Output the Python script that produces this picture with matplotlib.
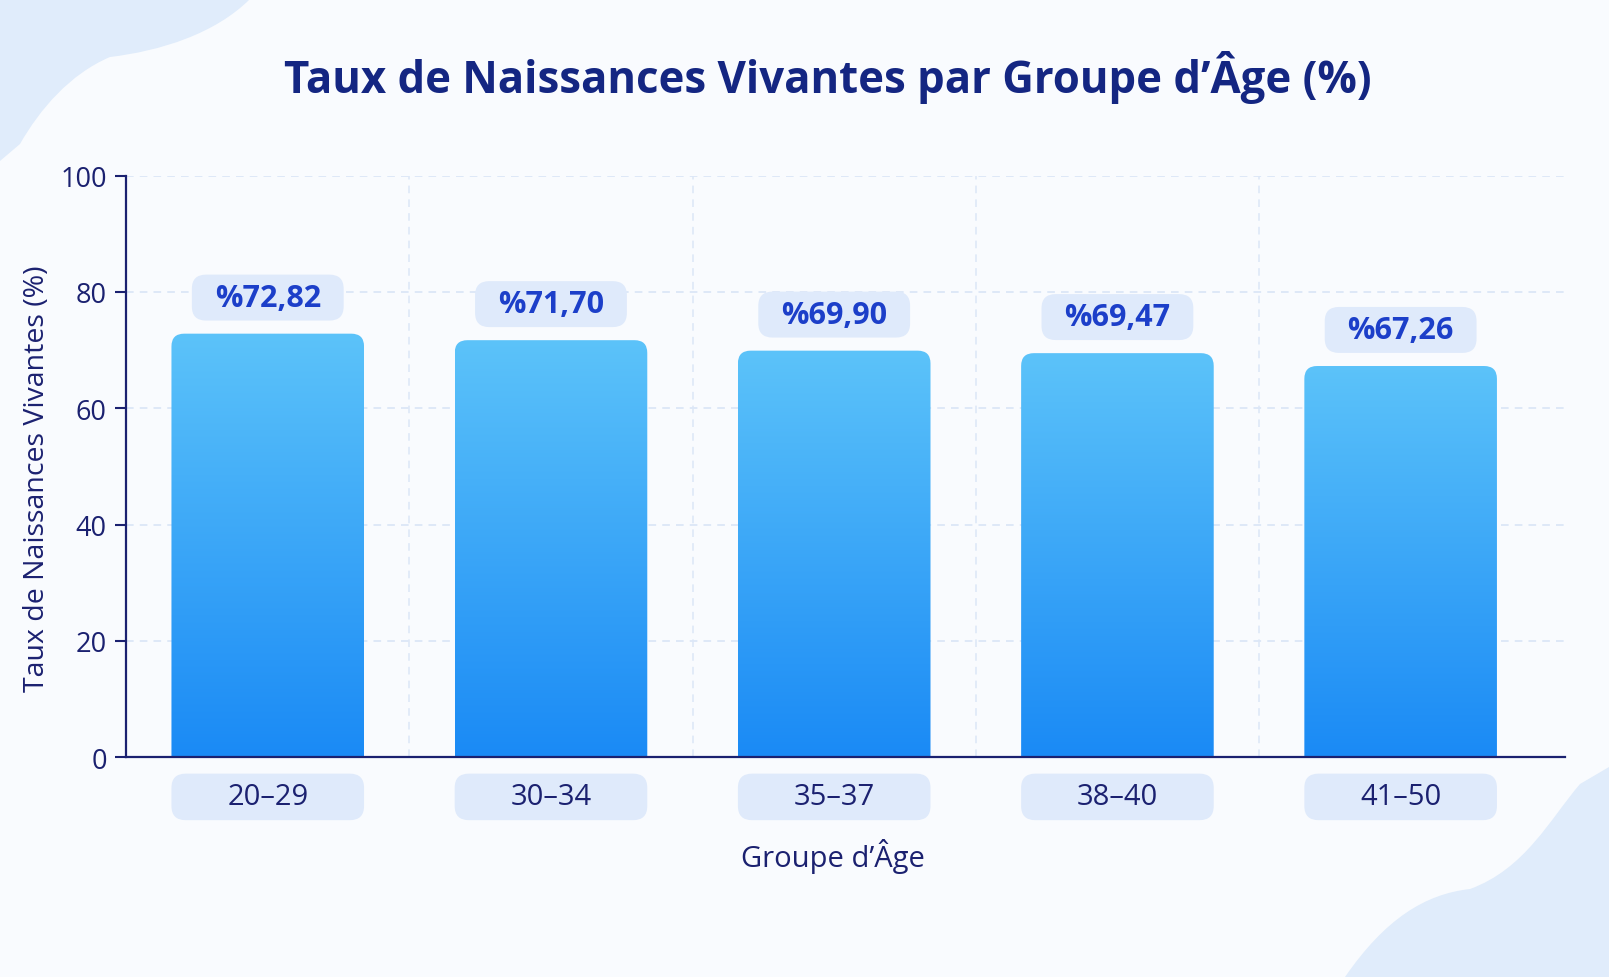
import numpy as np
import matplotlib.pyplot as plt
from matplotlib.patches import FancyBboxPatch, PathPatch
from matplotlib.path import Path
from matplotlib.colors import LinearSegmentedColormap

# ------------------------------------------
# DATA
# ------------------------------------------
age_groups = ['20–29', '30–34', '35–37', '38–40', '41–50']
live_birth_rate = [72.82, 71.70, 69.90, 69.47, 67.26]
value_labels = ['%72,82', '%71,70', '%69,90', '%69,47', '%67,26']
y_ticks = [0, 20, 40, 60, 80, 100]

navy = '#1b2170'
title_col = '#142682'
value_col = '#1c3fc9'
pill_col = '#dfeafb'
bg_col = '#f9fbfe'
blob_col = '#e0ecfb'

plt.rcParams['font.family'] = ['Open Sans', 'DejaVu Sans']

fig = plt.figure(figsize=(16.09, 9.78), dpi=100)
fig.patch.set_facecolor(bg_col)

# ------------------------------------------
# BACKGROUND BLOBS (pixel coords of the picture)
# ------------------------------------------
W, H = 1609, 978

def fig_pt(x, y):
    return (x / W, 1 - y / H)

tl = [(0, 0), (250, 0), (215, 35), (160, 52), (110, 58), (70, 75),
      (40, 110), (20, 145), (0, 162), (0, 0)]
tl_codes = [Path.MOVETO, Path.LINETO, Path.CURVE4, Path.CURVE4, Path.CURVE4,
            Path.CURVE4, Path.CURVE4, Path.CURVE4, Path.LINETO, Path.CLOSEPOLY]
fig.patches.append(PathPatch(Path([fig_pt(*p) for p in tl], tl_codes),
                             transform=fig.transFigure, color=blob_col, lw=0, zorder=0))

br = [(1345, 978), (1385, 920), (1425, 895), (1470, 890), (1525, 870),
      (1550, 820), (1580, 785), (1609, 768), (1609, 978), (1345, 978)]
br_codes = [Path.MOVETO, Path.CURVE4, Path.CURVE4, Path.CURVE4, Path.CURVE4,
            Path.CURVE4, Path.CURVE4, Path.LINETO, Path.LINETO, Path.CLOSEPOLY]
fig.patches.append(PathPatch(Path([fig_pt(*p) for p in br], br_codes),
                             transform=fig.transFigure, color=blob_col, lw=0, zorder=0))

# ------------------------------------------
# AXES
# ------------------------------------------
ax = fig.add_axes([0.0784, 0.2246, 0.8942, 0.5949])
ax.set_facecolor('none')
x = np.arange(len(age_groups))
ax.set_xlim(-0.5, 4.58)
ax.set_ylim(0, 100)

bar_w = 0.68
bars = ax.bar(x, live_birth_rate, width=bar_w, color='none', zorder=2)

# gradient fill clipped to rounded bar
grad = np.linspace(0, 1, 256).reshape(-1, 1)
cmap = LinearSegmentedColormap.from_list('bar', ['#1a8af5', '#5cc3fa'])
aspect = 48.6
for b in bars:
    bx, bw, bh = b.get_x(), b.get_width(), b.get_height()
    rounded = FancyBboxPatch((bx, -5), bw, bh + 5,
                             boxstyle='round,pad=0,rounding_size=0.045',
                             mutation_aspect=aspect, facecolor='none',
                             edgecolor='none')
    ax.add_patch(rounded)
    im = ax.imshow(grad, extent=[bx, bx + bw, 0, bh], origin='lower',
                   cmap=cmap, aspect='auto', zorder=2)
    im.set_clip_path(rounded)

# value pills above bars
for xi, val, lab in zip(x, live_birth_rate, value_labels):
    pw, ph = 0.536, 7.9
    pill = FancyBboxPatch((xi - pw / 2, val + 6.2 - ph / 2), pw, ph,
                          boxstyle='round,pad=0,rounding_size=0.05',
                          mutation_aspect=aspect, facecolor=pill_col,
                          edgecolor='none', zorder=3)
    ax.add_patch(pill)
    ax.text(xi, val + 6.2, lab, ha='center', va='center', fontsize=22,
            fontweight='bold', color=value_col, zorder=4)

# category pills below axis
for xi, lab in zip(x, age_groups):
    ph = 8.0
    pill = FancyBboxPatch((xi - bar_w / 2, -6.8 - ph / 2), bar_w, ph,
                          boxstyle='round,pad=0,rounding_size=0.05',
                          mutation_aspect=aspect, facecolor=pill_col,
                          edgecolor='none', clip_on=False, zorder=3)
    ax.add_patch(pill)
    ax.text(xi, -6.8, lab, ha='center', va='center', fontsize=21,
            color=navy, clip_on=False, zorder=4)

# grid
ax.set_yticks(y_ticks)
ax.set_yticklabels([str(t) for t in y_ticks])
for t in y_ticks[1:]:
    ax.axhline(t, color='#d6e3f6', lw=1.1, ls=(0, (5, 4)), zorder=1)
for g in x[:-1] + 0.5:
    ax.axvline(g, color='#dce7f7', lw=1.1, ls=(0, (5, 4)), zorder=1)

ax.set_xticks([])
ax.tick_params(axis='y', colors=navy, labelsize=19.5, length=8, width=1.5, pad=6)

for s in ['top', 'right']:
    ax.spines[s].set_visible(False)
for s in ['left', 'bottom']:
    ax.spines[s].set_color(navy)
    ax.spines[s].set_linewidth(1.6)

ax.set_ylabel('Taux de Naissances Vivantes (%)', fontsize=20.5, color=navy)
ax.yaxis.set_label_coords(-0.052, 0.48)
ax.text(0.491, -0.168, 'Groupe d’Âge', transform=ax.transAxes, ha='center',
        va='center', fontsize=21, color=navy)

fig.text(0.5147, 1 - 78 / H, 'Taux de Naissances Vivantes par Groupe d’Âge (%)',
         ha='center', va='center', fontsize=31.5, fontweight='bold', color=title_col)

fig.savefig('out.png', dpi=100, facecolor=fig.get_facecolor())
